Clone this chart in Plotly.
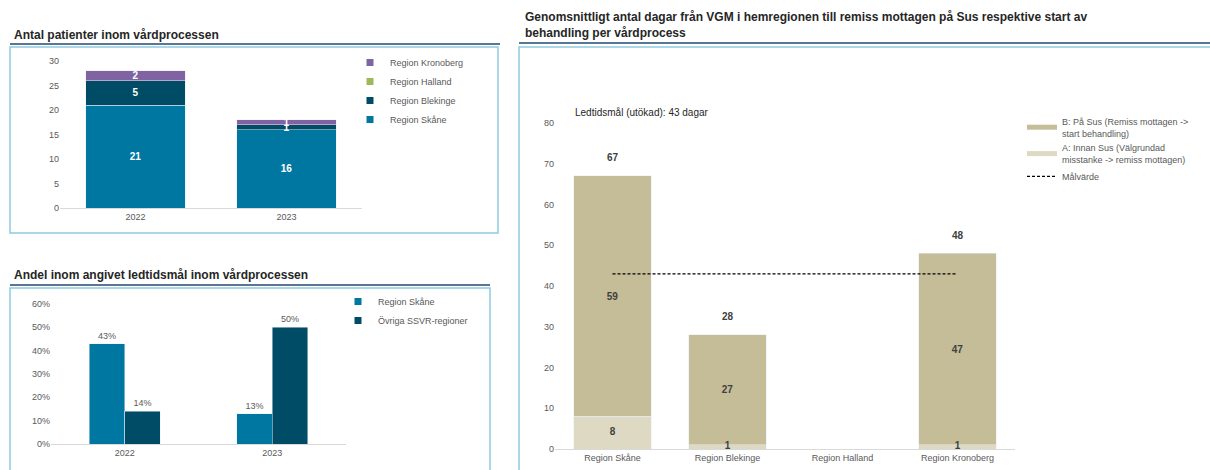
import plotly.graph_objects as go

W, H = 1210, 470

# chart 1: antal patienter
years = ["2022", "2023"]
skane = [21, 16]
blekinge = [5, 1]
halland = [0, 0]
kronoberg = [2, 1]

# chart 2: andel inom ledtidsmål
share_skane = [0.43, 0.13]
share_ovriga = [0.14, 0.50]

# chart 3: dagar per region
regions = ["Region Skåne", "Region Blekinge", "Region Halland", "Region Kronoberg"]
days_a = [8, 1, None, 1]
days_b = [59, 27, None, 47]
target = 43

BLUE = "#0077a0"
DARK = "#004c66"
PURPLE = "#8064a2"
GREEN = "#9bbb59"
TAN = "#c4bd97"
LIGHT_TAN = "#ddd9c3"
GRAY = "#595959"
FONT = "Liberation Sans"


def fx(p):
    return p / W


def fy(p):
    return 1 - p / H


def lab(vals):
    return [str(v) if v else "" for v in vals]


fig = go.Figure()

# chart 1
series1 = [("Region Skåne", skane, BLUE), ("Region Blekinge", blekinge, DARK),
           ("Region Halland", halland, GREEN), ("Region Kronoberg", kronoberg, PURPLE)]
for name, vals, col in series1:
    fig.add_trace(go.Bar(x=years, y=vals, name=name, marker_color=col, width=0.66, showlegend=False,
                         text=lab(vals), textposition="inside", insidetextanchor="middle",
                         constraintext="none", textangle=0, cliponaxis=False,
                         textfont=dict(color="white", size=10, family=FONT, weight="bold"),
                         xaxis="x", yaxis="y", hoverinfo="skip"))
# legend keys (small squares like the original)
for name, vals, col in reversed(series1):
    fig.add_trace(go.Scatter(x=[None], y=[None], mode="markers", name=name,
                             marker=dict(symbol="square", size=7, color=col),
                             xaxis="x", yaxis="y", legend="legend"))

# chart 2
series2 = [("Region Skåne", share_skane, BLUE, "s"), ("Övriga SSVR-regioner", share_ovriga, DARK, "o")]
for name, vals, col, grp in series2:
    fig.add_trace(go.Bar(x=years, y=vals, name=name, marker_color=col, showlegend=False,
                         offsetgroup=grp, texttemplate="%{y:.0%}", textposition="outside",
                         textfont=dict(color=GRAY, size=9, family=FONT),
                         xaxis="x2", yaxis="y2", hoverinfo="skip"))
for name, vals, col, grp in series2:
    fig.add_trace(go.Scatter(x=[None], y=[None], mode="markers", name=name,
                             marker=dict(symbol="square", size=7, color=col),
                             xaxis="x2", yaxis="y2", legend="legend2"))

# chart 3
label3 = dict(color="#404040", size=10, family=FONT, weight="bold")
fig.add_trace(go.Bar(x=regions, y=days_a, marker_color=LIGHT_TAN, width=0.67, showlegend=False,
                     xaxis="x3", yaxis="y3", hoverinfo="skip"))
fig.add_trace(go.Bar(x=regions, y=days_b, marker_color=TAN, width=0.67, showlegend=False,
                     text=lab(days_b), textposition="inside", insidetextanchor="middle",
                     constraintext="none", textangle=0, textfont=label3,
                     xaxis="x3", yaxis="y3", hoverinfo="skip"))
# labels for the lower segment drawn on top so the small ones stay visible
fig.add_trace(go.Scatter(x=regions, y=[a / 2 if a else None for a in days_a], mode="text",
                         text=lab(days_a), textfont=label3, showlegend=False, cliponaxis=False,
                         xaxis="x3", yaxis="y3", hoverinfo="skip"))
fig.add_trace(go.Scatter(x=regions, y=[target] * len(regions), mode="lines", name="Målvärde",
                         line=dict(color="black", width=1.2, dash="3px,2px"),
                         xaxis="x3", yaxis="y3", legend="legend3", legendrank=3, hoverinfo="skip"))
fig.add_trace(go.Scatter(x=[None], y=[None], mode="lines", legendrank=1,
                         name="B: På Sus (Remiss mottagen -><br>start behandling)",
                         line=dict(color=TAN, width=5), xaxis="x3", yaxis="y3", legend="legend3"))
fig.add_trace(go.Scatter(x=[None], y=[None], mode="lines", legendrank=2,
                         name="A: Innan Sus (Välgrundad<br>misstanke -> remiss mottagen)",
                         line=dict(color=LIGHT_TAN, width=5), xaxis="x3", yaxis="y3", legend="legend3"))

annotations = []
for r, a, b in zip(regions, days_a, days_b):
    if a is None:
        continue
    annotations.append(dict(x=r, y=a + b, xref="x3", yref="y3", text=f"<b>{a + b}</b>",
                            showarrow=False, yshift=18, font=dict(size=10, color="#404040", family=FONT)))

titles = [
    (12, 35, "Antal patienter inom vårdprocessen"),
    (12, 275, "Andel inom angivet ledtidsmål inom vårdprocessen"),
    (523, 25, "Genomsnittligt antal dagar från VGM i hemregionen till remiss mottagen på Sus respektive start av<br>behandling per vårdprocess"),
]
for x, y, t in titles:
    annotations.append(dict(x=fx(x), y=fy(y), xref="paper", yref="paper", xanchor="left", yanchor="middle",
                            align="left", text=f"<b>{t}</b>", showarrow=False,
                            font=dict(size=12, color="#262626", family=FONT)))
annotations.append(dict(x=fx(573), y=fy(113), xref="paper", yref="paper", xanchor="left", yanchor="middle",
                        text="Ledtidsmål (utökad): 43 dagar", showarrow=False,
                        font=dict(size=10, color="#262626", family=FONT)))

shapes = []
for x0, x1, y in [(10, 500, 44), (10, 490, 285), (519, 1210, 43)]:
    shapes.append(dict(type="line", xref="paper", yref="paper", x0=fx(x0), x1=fx(x1), y0=fy(y), y1=fy(y),
                       line=dict(color="#5a7596", width=2)))
for x0, x1, y0, y1 in [(10, 498, 47, 233), (10, 490, 288, 480), (519, 1220, 47, 480)]:
    shapes.append(dict(type="rect", xref="paper", yref="paper", x0=fx(x0), x1=fx(x1), y0=fy(y0), y1=fy(y1),
                       line=dict(color="#8fcbe0", width=1.5)))

tick = dict(size=9, color=GRAY, family=FONT)
xcommon = dict(type="category", showline=True, linecolor="#d9d9d9", linewidth=1, ticks="",
               tickfont=tick, showgrid=False, fixedrange=True, automargin=False)
ycommon = dict(showline=False, showgrid=False, zeroline=False, tickfont=tick, ticks="",
               fixedrange=True, automargin=False)
legfont = dict(size=9, color=GRAY, family=FONT)

fig.update_layout(
    width=W, height=H, margin=dict(l=0, r=0, t=0, b=0, autoexpand=False),
    paper_bgcolor="white", plot_bgcolor="white",
    barmode="stack", bargap=0.52, bargroupgap=0,
    font=dict(family=FONT),
    xaxis=dict(xcommon, domain=[fx(60), fx(362)], anchor="y", range=[-0.5, 1.5]),
    yaxis=dict(ycommon, domain=[fy(208), fy(61)], anchor="x", range=[0, 30], dtick=5),
    xaxis2=dict(xcommon, domain=[fx(51), fx(346)], anchor="y2", range=[-0.5, 1.5]),
    yaxis2=dict(ycommon, domain=[fy(444), fy(304)], anchor="x2", range=[0, 0.6], dtick=0.1, tickformat=".0%"),
    xaxis3=dict(xcommon, domain=[fx(555), fx(1015)], anchor="y3", range=[-0.5, 3.5]),
    yaxis3=dict(ycommon, domain=[fy(449), fy(123)], anchor="x3", range=[0, 80], dtick=10),
    legend=dict(x=fx(350), y=fy(48), xanchor="left", yanchor="top", traceorder="normal",
                font=legfont, itemwidth=30, tracegroupgap=0, bgcolor="rgba(0,0,0,0)"),
    legend2=dict(x=fx(338), y=fy(287), xanchor="left", yanchor="top", font=legfont, traceorder="normal",
                 tracegroupgap=0, bgcolor="rgba(0,0,0,0)"),
    legend3=dict(x=fx(1022), y=fy(109), xanchor="left", yanchor="top", font=legfont,
                 bgcolor="rgba(0,0,0,0)"),
    annotations=annotations, shapes=shapes, showlegend=True,
)

fig.write_html("out.html", config={"displayModeBar": False},
               post_script="document.body.style.margin='0';")
